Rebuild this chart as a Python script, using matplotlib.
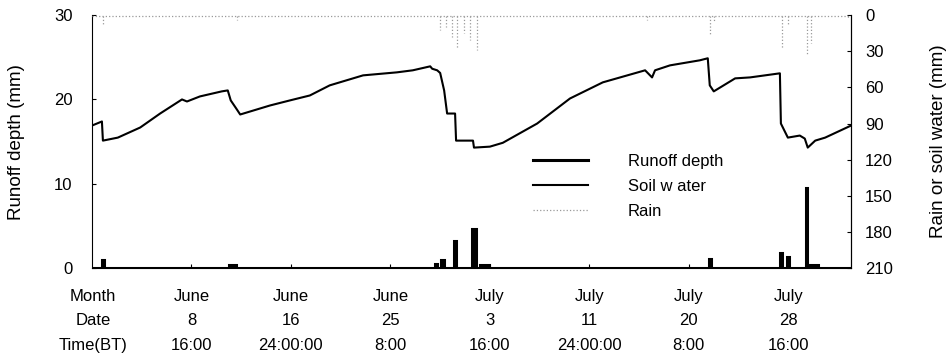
import matplotlib
matplotlib.use('Agg')
import matplotlib.pyplot as plt
import matplotlib.transforms as mtransforms

plt.rcParams['font.family'] = ['Liberation Sans', 'DejaVu Sans']
plt.rcParams['font.size'] = 12

# hours since start of record (x axis)
sw_hours = [0, 20, 22, 52, 97, 137, 181, 191, 217, 261, 273, 279, 290, 298, 318, 358,
            398, 438, 478, 545, 613, 645, 680, 684, 694, 700, 708, 714, 730, 732, 766,
            768, 800, 826, 895, 961, 1027, 1112, 1126, 1132, 1162, 1222, 1238, 1242,
            1250, 1293, 1323, 1383, 1385, 1399, 1423, 1433, 1439, 1454, 1474, 1526]
sw_mm = [91.7, 88.3, 104.2, 101.7, 93.3, 81.7, 70, 71.7, 67.5, 63.3, 62.5, 70.8, 77.5,
         82.5, 80, 75, 70.8, 66.7, 58.3, 50, 47.5, 45.8, 42.5, 44.5, 45.8, 48, 62.5,
         81.7, 81.7, 104.2, 104.2, 110, 109.2, 106, 90, 69.2, 55.8, 45.8, 51.7, 45.8,
         41.7, 37.5, 35.8, 58.3, 63.3, 52.5, 51.7, 48.3, 90, 101.7, 100, 102.5, 110,
         104.2, 101.7, 91.7]

rain_hours = [22, 292, 700, 712, 724, 734, 748, 760, 774, 1116, 1242, 1250, 1387, 1399,
              1437, 1446, 1520]
rain_mm = [8, 4, 12.5, 10, 18, 27, 15, 21, 29, 4, 16, 6, 27, 8, 33, 23, 3]
rain_base_hours = [0, 1526]
rain_base_mm = [0.8, 0.8]

runoff_hours = [22, 282, 692, 704, 730, 768, 790, 1243, 1385, 1399, 1436, 1450]
runoff_mm = [0.95, 0.4, 0.5, 0.9, 3.2, 4.6, 0.3, 1.1, 1.8, 1.3, 9.5, 0.3]
runoff_width = [4, 14, 3, 6, 3, 7, 18, 4, 4, 5, 3, 18]

tick_hours = [200, 400, 600, 800, 1000, 1200, 1400]
months = ['June', 'June', 'June', 'July', 'July', 'July', 'July']
dates = ['8', '16', '25', '3', '11', '20', '28']
times = ['16:00', '24:00:00', '8:00', '16:00', '24:00:00', '8:00', '16:00']

# runoff as a step trace from the events
rt, rv = [0], [0]
for h, v, w in zip(runoff_hours, runoff_mm, runoff_width):
    rt += [h - w / 2, h - w / 2, h + w / 2, h + w / 2]
    rv += [0, v, v, 0]
rt.append(1526)
rv.append(0)

fig = plt.figure(figsize=(9.53, 3.61), dpi=100)
ax = fig.add_axes([0.0965, 0.2576, 0.7965, 0.7004])
ax2 = ax.twinx()

ax.fill_between(rt, rv, color='black', lw=0)
runoff_line, = ax.plot(rt, rv, color='black', lw=2.2, solid_joinstyle='miter')
ax.set_xlim(0, 1526)
ax.set_ylim(0, 30)
ax.set_yticks([0, 10, 20, 30])
ax.set_ylabel('Runoff depth (mm)', fontsize=13.5)
ax.yaxis.set_label_coords(-0.088, 0.5)
ax.set_xticks(tick_hours)
ax.set_xticklabels([])
ax.tick_params(axis='x', direction='in', length=3)
ax.tick_params(axis='y', direction='in', length=3, pad=14)

sw_line, = ax2.plot(sw_hours, sw_mm, color='black', lw=1.5)
rain_line, = ax2.plot(rain_base_hours, rain_base_mm, color='0.6', lw=0.9, ls=':')
ax2.vlines(rain_hours, 0.8, rain_mm, colors='0.6', lw=0.9, linestyles=':')
ax2.set_ylim(210, 0)
ax2.set_yticks(range(0, 211, 30))
ax2.set_ylabel('Rain or soil water (mm)', fontsize=13.5)
ax2.yaxis.set_label_coords(1.104, 0.5)
ax2.tick_params(axis='y', direction='in', length=3, pad=10)

for a in (ax, ax2):
    a.spines['top'].set_visible(False)
ax2.spines['left'].set_visible(False)
ax2.spines['bottom'].set_visible(False)

ax2.legend([runoff_line, sw_line, rain_line], ['Runoff depth', 'Soil w ater', 'Rain'],
           loc='upper left', bbox_to_anchor=(0.581, 0.45), frameon=False,
           borderpad=0, borderaxespad=0, handlelength=3.3, handletextpad=2.4,
           labelspacing=0.6, fontsize=12)

# three-row date table under the axis
trans = mtransforms.blended_transform_factory(ax.transData, fig.transFigure)
rows_y = [0.180, 0.111, 0.044]
fig.text(0.0975, rows_y[0], 'Month', ha='center', va='center')
fig.text(0.0975, rows_y[1], 'Date', ha='center', va='center')
fig.text(0.0975, rows_y[2], 'Time(BT)', ha='center', va='center')
for h, m, d, t in zip(tick_hours, months, dates, times):
    ax.text(h, rows_y[0], m, transform=trans, ha='center', va='center')
    ax.text(h, rows_y[1], d, transform=trans, ha='center', va='center')
    ax.text(h, rows_y[2], t, transform=trans, ha='center', va='center')

fig.savefig('out.png', dpi=100)
